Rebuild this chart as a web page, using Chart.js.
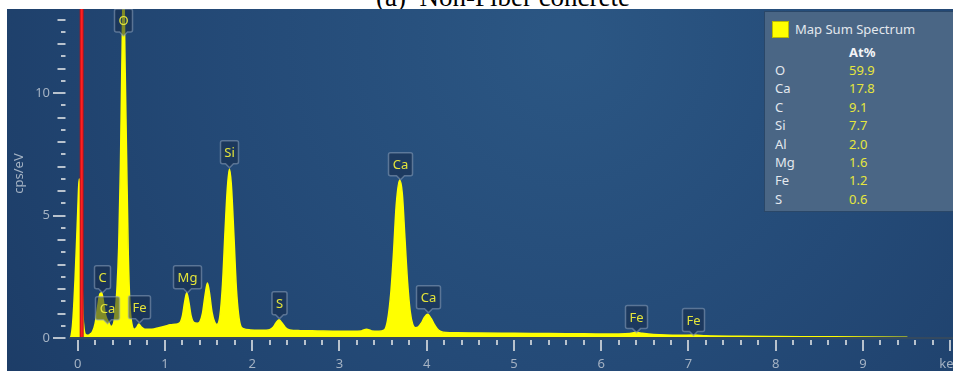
<!DOCTYPE html>
<html>
<head>
<meta charset="utf-8">
<script src="https://cdn.jsdelivr.net/npm/chart.js@4.4.1/dist/chart.umd.min.js"></script>
<style>
  html, body { margin: 0; padding: 0; background: #ffffff; width: 953px; height: 371px; overflow: hidden; position: relative; }
  #title { position: absolute; left: 503px; top: -16px; transform: translateX(-50%); font: 27px/27px "Liberation Serif", "Times New Roman", serif; color: #000; white-space: pre; }
  #panel { position: absolute; left: 7px; top: 9px; width: 980px; height: 362px; }
  #legend { position: absolute; left: 764px; top: 11px; width: 200px; height: 199px; background: #4a6685; border: 1px solid #2a4768; font-family: "Noto Sans", sans-serif; font-size: 13px; color: #e3e8ee; }
  #legend .sw { position: absolute; left: 7px; top: 9px; width: 15px; height: 15px; background: #ffff00; border: 1px solid rgba(60,60,0,0.35); }
  #legend .t { position: absolute; line-height: 18px; white-space: nowrap; }
  #legend .v { color: #e6e63c; }
  #legend .h { font-weight: bold; color: #f2f4f7; }
</style>
</head>
<body>
<div id="title">(a)  Non-Fiber concrete</div>
<div id="panel"><canvas id="chart" width="980" height="362"></canvas></div>
<div id="legend"></div>
<script>
// EDS spectrum: energy (keV) and intensity (cps/eV)
const energyKeV = [
  -0.088, -0.075, -0.06, -0.045, -0.03, -0.015, 0.0, 0.01, 0.018, 0.03, 0.045, 0.06, 0.075, 0.09,
  0.11, 0.14, 0.17, 0.20, 0.23, 0.255, 0.275, 0.295, 0.315, 0.34, 0.36, 0.38, 0.40, 0.42,
  0.45, 0.47, 0.49, 0.505, 0.525, 0.545, 0.56, 0.58, 0.60, 0.62, 0.65, 0.68, 0.70, 0.73,
  0.77, 0.85, 0.93, 1.00, 1.06, 1.12, 1.17, 1.20, 1.225, 1.25, 1.275, 1.30, 1.33, 1.37,
  1.40, 1.43, 1.46, 1.487, 1.51, 1.54, 1.57, 1.595, 1.63, 1.66, 1.69, 1.715, 1.739, 1.76,
  1.79, 1.82, 1.86, 1.90, 1.98, 2.08, 2.16, 2.20, 2.24, 2.27, 2.307, 2.34, 2.38, 2.43,
  2.55, 2.75, 2.95, 3.15, 3.25, 3.31, 3.37, 3.45, 3.51, 3.55, 3.59, 3.62, 3.65, 3.69,
  3.72, 3.75, 3.78, 3.81, 3.84, 3.87, 3.90, 3.94, 3.97, 4.01, 4.05, 4.08, 4.12, 4.16,
  4.22, 4.35, 4.6, 5.0, 5.4, 5.8, 6.2, 6.33, 6.40, 6.47, 6.6, 6.9, 7.06, 7.2,
  7.6, 8.0, 8.5, 9.0, 9.5, 9.52
];
const countsPerEV = [
  0, 0.1, 0.5, 1.3, 2.4, 3.7, 5.1, 6.1, 6.5, 5.4, 2.9, 1.0, 0.32, 0.14,
  0.11, 0.15, 0.26, 0.6, 1.3, 1.8, 1.85, 1.5, 1.0, 0.74, 0.6, 0.47, 0.5, 0.75,
  2.0, 3.7, 7.0, 10.8, 14.5, 10.8, 7.5, 3.4, 1.3, 0.6, 0.36, 0.45, 0.57, 0.45,
  0.36, 0.36, 0.42, 0.48, 0.54, 0.56, 0.62, 0.9, 1.45, 1.85, 1.45, 0.9, 0.64, 0.6,
  0.66, 1.0, 1.75, 2.25, 1.85, 1.05, 0.65, 0.55, 0.9, 2.2, 4.45, 6.1, 6.9, 6.3,
  4.2, 1.95, 0.6, 0.38, 0.33, 0.32, 0.32, 0.34, 0.44, 0.6, 0.75, 0.62, 0.43, 0.33,
  0.3, 0.29, 0.28, 0.28, 0.29, 0.36, 0.29, 0.28, 0.32, 0.7, 1.9, 3.5, 5.4, 6.45,
  5.9, 4.1, 2.3, 1.1, 0.55, 0.42, 0.44, 0.62, 0.82, 0.97, 0.8, 0.6, 0.38, 0.27,
  0.22, 0.21, 0.2, 0.19, 0.18, 0.17, 0.16, 0.18, 0.23, 0.19, 0.14, 0.11, 0.12, 0.09,
  0.07, 0.06, 0.05, 0.04, 0.03, 0
];

// Peak identification callouts: element, line energy (keV), pointer height (cps/eV)
const calloutElements = ['O', 'C', 'Ca', 'Fe', 'Mg', 'Si', 'S', 'Ca', 'Ca', 'Fe', 'Fe'];
const calloutKeV      = [0.525, 0.277, 0.341, 0.705, 1.253, 1.739, 2.307, 3.690, 4.012, 6.398, 7.057];
const calloutLevel    = [12.4, 1.85, 0.58, 0.62, 1.85, 6.95, 0.79, 6.46, 1.03, 0.22, 0.10];

// Quantification table
const legendElements = ['O', 'Ca', 'C', 'Si', 'Al', 'Mg', 'Fe', 'S'];
const legendAtPct    = ['59.9', '17.8', '9.1', '7.7', '2.0', '1.6', '1.2', '0.6'];

// Axis ticks and labels
const xMajorTicks  = [0, 1, 2, 3, 4, 5, 6, 7, 8, 9, 10];
const xTickLabels  = ['0', '1', '2', '3', '4', '5', '6', '7', '8', '9', 'keV'];
const xMinorStep   = 0.2;
const yMajorTicks  = [0, 5, 10];
const yTickLabels  = ['0', '5', '10'];
const yMinorStep   = 0.5;
const yTopTick     = 13;
const markerKeV    = 0.046;

// ---- legend table ----
(function buildLegend() {
  const lg = document.getElementById('legend');
  let html = '<div class="sw"></div>';
  html += '<div class="t" style="left:30px;top:8px">Map Sum Spectrum</div>';
  html += '<div class="t h" style="left:84px;top:31px">At%</div>';
  legendElements.forEach((el, i) => {
    const top = 49 + i * 18.4;
    html += `<div class="t" style="left:10px;top:${top}px">${el}</div>`;
    html += `<div class="t v" style="left:84px;top:${top}px">${legendAtPct[i]}</div>`;
  });
  lg.innerHTML = html;
})();

// ---- tick value lists ----
const xTickValues = [];
for (let i = 0; i <= Math.round(10 / xMinorStep); i++) xTickValues.push(Math.round(i * xMinorStep * 1000) / 1000);
const yTickValues = [];
for (let i = 0; i <= Math.round(yTopTick / yMinorStep); i++) yTickValues.push(Math.round(i * yMinorStep * 1000) / 1000);

function labelFrom(list, labels, v) {
  const idx = list.findIndex(m => Math.abs(m - v) < 1e-6);
  return idx >= 0 ? labels[idx] : '';
}

const axisColor = '#a4b2c3';
const tickMarkColor = '#b8c2cd';
const uiFont = '"Noto Sans", "Open Sans", sans-serif';

// panel background
const backdrop = {
  id: 'backdrop',
  beforeDraw(chart) {
    const { ctx, width, height } = chart;
    ctx.save();
    const g = ctx.createRadialGradient(560, 30, 20, 560, 30, 720);
    g.addColorStop(0, '#2b5683');
    g.addColorStop(0.45, '#244a77');
    g.addColorStop(1, '#1b3a64');
    ctx.fillStyle = g;
    ctx.fillRect(0, 0, width, height);
    ctx.restore();
  }
};

// tick marks, energy marker line and peak callouts
const overlay = {
  id: 'overlay',
  afterDatasetsDraw(chart) {
    const { ctx, chartArea, scales: { x, y } } = chart;
    ctx.save();

    ctx.fillStyle = tickMarkColor;
    x.ticks.forEach(t => {
      const px = Math.round(x.getPixelForValue(t.value));
      const major = Math.abs(t.value - Math.round(t.value)) < 1e-6;
      ctx.fillRect(px - 1, chartArea.bottom + 2, 2, major ? 11 : 5);
    });
    y.ticks.forEach(t => {
      const py = Math.round(y.getPixelForValue(t.value));
      const v = t.value;
      const len = (Math.abs(v % 5) < 1e-6) ? 12.5 : (Math.abs(v - Math.round(v)) < 1e-6 ? 8 : 4.5);
      ctx.fillRect(chartArea.left - 4.5 - len, py - 1, len, 2);
    });

    // marker line
    const mx = x.getPixelForValue(markerKeV);
    ctx.fillStyle = '#b5121b';
    ctx.fillRect(mx - 2, chartArea.top, 4, chartArea.bottom - chartArea.top);
    ctx.fillStyle = '#ff2020';
    ctx.fillRect(mx - 1, chartArea.top, 2, chartArea.bottom - chartArea.top);

    // callouts
    ctx.font = '13px ' + uiFont;
    ctx.textAlign = 'center';
    ctx.textBaseline = 'middle';
    calloutElements.forEach((el, i) => {
      const px = Math.round(x.getPixelForValue(calloutKeV[i])) + 0.5;
      const tipY = y.getPixelForValue(calloutLevel[i]);
      const tw = ctx.measureText(el).width;
      const w = Math.round(tw + 8), h = 23, ptr = 4;
      let bottom = tipY - ptr;
      let top = bottom - h;
      if (top < chartArea.top) { top = chartArea.top; bottom = top + h; }
      const left = px - w / 2, right = px + w / 2, r = 2;
      ctx.beginPath();
      ctx.moveTo(left + r, top);
      ctx.lineTo(right - r, top);
      ctx.quadraticCurveTo(right, top, right, top + r);
      ctx.lineTo(right, bottom - r);
      ctx.quadraticCurveTo(right, bottom, right - r, bottom);
      ctx.lineTo(px + ptr, bottom);
      ctx.lineTo(px, bottom + ptr);
      ctx.lineTo(px - ptr, bottom);
      ctx.lineTo(left + r, bottom);
      ctx.quadraticCurveTo(left, bottom, left, bottom - r);
      ctx.lineTo(left, top + r);
      ctx.quadraticCurveTo(left, top, left + r, top);
      ctx.closePath();
      ctx.fillStyle = 'rgba(22, 42, 72, 0.55)';
      ctx.fill();
      ctx.lineWidth = 1.5;
      ctx.strokeStyle = 'rgba(140, 160, 186, 0.55)';
      ctx.stroke();
      ctx.fillStyle = '#e4e43a';
      ctx.fillText(el, px, (top + bottom) / 2 + 1);
    });
    ctx.restore();
  }
};

const spectrumPoints = energyKeV.map((e, i) => ({ x: e, y: countsPerEV[i] }));

new Chart(document.getElementById('chart').getContext('2d'), {
  type: 'line',
  data: {
    datasets: [{
      label: 'Map Sum Spectrum',
      data: spectrumPoints,
      borderColor: '#ffff00',
      backgroundColor: '#ffff00',
      borderWidth: 1.5,
      pointRadius: 0,
      fill: 'origin',
      cubicInterpolationMode: 'monotone'
    }]
  },
  options: {
    responsive: false,
    animation: false,
    devicePixelRatio: 1,
    layout: { autoPadding: false, padding: { left: 0, top: 0, right: 28, bottom: 0 } },
    plugins: { legend: { display: false }, tooltip: { enabled: false } },
    scales: {
      x: {
        type: 'linear',
        bounds: 'data',
        min: -0.088,
        max: 10.1,
        afterBuildTicks: s => { s.ticks = xTickValues.map(v => ({ value: v })); },
        afterFit: s => { s.height = 33; s.paddingLeft = 0; s.paddingRight = 0; },
        grid: { display: false, drawTicks: false },
        border: { display: true, color: '#34495f', width: 2, z: 1 },
        ticks: {
          autoSkip: false, maxRotation: 0, minRotation: 0, padding: 18,
          color: axisColor, font: { family: uiFont, size: 13 },
          callback: v => labelFrom(xMajorTicks, xTickLabels, v)
        }
      },
      y: {
        type: 'linear',
        bounds: 'data',
        min: 0,
        max: 13.43,
        afterBuildTicks: s => { s.ticks = yTickValues.map(v => ({ value: v })); },
        afterFit: s => { s.width = 63; s.paddingTop = 0; s.paddingBottom = 0; },
        grid: { display: false, drawTicks: false },
        border: { display: false },
        ticks: {
          autoSkip: false, padding: 20,
          color: axisColor, font: { family: uiFont, size: 13 },
          callback: v => labelFrom(yMajorTicks, yTickLabels, v)
        },
        title: { display: true, text: 'cps/eV', color: axisColor, font: { family: uiFont, size: 13 }, padding: { top: 4, bottom: 0 } }
      }
    }
  },
  plugins: [backdrop, overlay]
});
</script>
</body>
</html>
